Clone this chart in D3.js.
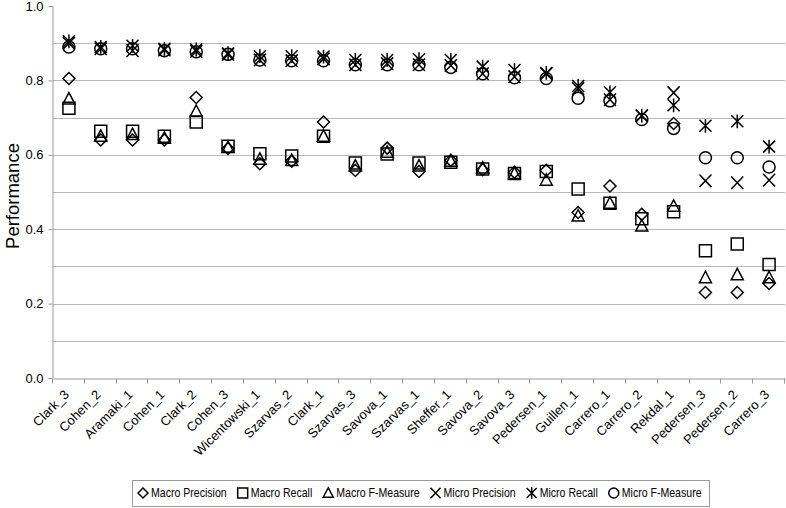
<!DOCTYPE html>
<html>
<head>
<meta charset="utf-8">
<script src="https://cdn.jsdelivr.net/npm/d3@7"></script>
<style>
  html, body { margin: 0; padding: 0; background: #fff; }
  svg { display: block; font-family: 'Liberation Sans', Arial, sans-serif; }
</style>
</head>
<body>
<div id="chart"></div>
<script>
const systems = ['Clark_3', 'Cohen_2', 'Aramaki_1', 'Cohen_1', 'Clark_2', 'Cohen_3', 'Wicentowski_1',
  'Szarvas_2', 'Clark_1', 'Szarvas_3', 'Savova_1', 'Szarvas_1', 'Sheffer_1', 'Savova_2', 'Savova_3',
  'Pedersen_1', 'Guillen_1', 'Carrero_1', 'Carrero_2', 'Rekdal_1', 'Pedersen_3', 'Pedersen_2', 'Carrero_3']

const macroPrecision = [0.805, 0.64, 0.64, 0.64, 0.754, 0.617, 0.576, 0.583, 0.688, 0.558, 0.618, 0.555,
  0.585, 0.56, 0.553, 0.558, 0.445, 0.516, 0.44, 0.684, 0.23, 0.23, 0.254]
const macroRecall = [0.725, 0.663, 0.663, 0.65, 0.688, 0.623, 0.603, 0.597, 0.65, 0.578, 0.602, 0.578,
  0.58, 0.562, 0.55, 0.555, 0.508, 0.47, 0.428, 0.447, 0.342, 0.36, 0.305]
const macroFMeasure = [0.75, 0.65, 0.655, 0.645, 0.717, 0.62, 0.588, 0.585, 0.65, 0.57, 0.607, 0.57,
  0.583, 0.565, 0.55, 0.532, 0.436, 0.47, 0.409, 0.462, 0.27, 0.278, 0.27]
const microPrecision = [0.9, 0.885, 0.88, 0.882, 0.878, 0.87, 0.855, 0.853, 0.858, 0.842, 0.845, 0.842,
  0.84, 0.818, 0.81, 0.818, 0.778, 0.748, 0.705, 0.767, 0.53, 0.525, 0.532]
const microRecall = [0.905, 0.89, 0.893, 0.885, 0.883, 0.873, 0.865, 0.865, 0.864, 0.855, 0.855, 0.857,
  0.855, 0.837, 0.828, 0.82, 0.785, 0.768, 0.705, 0.733, 0.678, 0.69, 0.622]
const microFMeasure = [0.89, 0.885, 0.885, 0.88, 0.877, 0.87, 0.855, 0.853, 0.853, 0.842, 0.842, 0.842,
  0.835, 0.818, 0.807, 0.805, 0.752, 0.745, 0.695, 0.671, 0.592, 0.592, 0.567]

const yTicks = [0, 0.2, 0.4, 0.6, 0.8, 1.0]
const yGrid = [0.1, 0.2, 0.3, 0.4, 0.5, 0.6, 0.7, 0.8, 0.9]

// marker shapes, centred on 0,0
const shapes = {
  diamond: s => `M0,${-s}L${s},0L0,${s}L${-s},0Z`,
  square: s => `M${-s},${-s}H${s}V${s}H${-s}Z`,
  triangle: s => `M0,${-s * 1.05}L${s},${s * 0.85}H${-s}Z`,
  cross: s => `M${-s},${-s * 1.05}L${s},${s * 1.05}M${s},${-s * 1.05}L${-s},${s * 1.05}`,
  asterisk: s => `M${-s},${-s}L${s},${s}M${s},${-s}L${-s},${s}M0,${-s * 1.15}V${s * 1.15}`,
  circle: s => `M${s},0A${s},${s} 0 1,1 ${-s},0A${s},${s} 0 1,1 ${s},0Z`
}

const series = [
  { name: 'Macro Precision', values: macroPrecision, shape: 'diamond' },
  { name: 'Macro Recall', values: macroRecall, shape: 'square' },
  { name: 'Macro F-Measure', values: macroFMeasure, shape: 'triangle' },
  { name: 'Micro Precision', values: microPrecision, shape: 'cross' },
  { name: 'Micro Recall', values: microRecall, shape: 'asterisk' },
  { name: 'Micro F-Measure', values: microFMeasure, shape: 'circle' }
]

const width = 786
const height = 508
const margin = { top: 6, right: 1, bottom: 130, left: 53 }
const font = "'Liberation Sans', Arial, sans-serif"

const svg = d3.select('#chart')
  .append('svg')
  .attr('width', width)
  .attr('height', height)
  .attr('viewBox', [0, 0, width, height].join(' '))

const x = d3.scaleBand()
  .domain(systems)
  .range([margin.left, width - margin.right])

const y = d3.scaleLinear()
  .domain([0, 1])
  .range([height - margin.bottom, margin.top])

const crisp = v => Math.round(v) + 0.5

// grid lines
svg.append('g')
  .attr('class', 'grid')
  .selectAll('line')
  .data(yGrid)
  .join('line')
  .attr('x1', margin.left)
  .attr('x2', width - margin.right)
  .attr('y1', d => crisp(y(d)))
  .attr('y2', d => crisp(y(d)))
  .attr('stroke', '#b8b8b8')
  .attr('stroke-width', 1)

// y axis
const yAxis = svg.append('g')
  .attr('class', 'y')
  .attr('transform', `translate(${crisp(margin.left) - 1},0)`)
  .call(d3.axisLeft(y).tickValues(yTicks).tickFormat(d3.format('.1f')).tickSize(4).tickPadding(5))
yAxis.select('.domain').attr('stroke', '#999')
yAxis.selectAll('.tick line').attr('stroke', '#999')
yAxis.selectAll('text').attr('font-size', 13).attr('fill', '#000').attr('font-family', font)

// x axis
const xAxis = svg.append('g')
  .attr('class', 'x')
  .attr('transform', `translate(0,${crisp(y(0))})`)
  .call(d3.axisBottom(x).tickSize(0).tickSizeOuter(0))
xAxis.select('.domain').attr('stroke', '#999')
xAxis.selectAll('.tick text')
  .attr('font-size', 13)
  .attr('fill', '#000')
  .attr('font-family', font)
  .attr('text-anchor', 'end')
  .attr('dy', null)
  .attr('y', 0)
  .attr('transform', 'translate(1,17) rotate(-45)')

// tick marks at the band edges
xAxis.append('g')
  .selectAll('line')
  .data(systems.map(d => x(d)).concat([x.range()[1]]))
  .join('line')
  .attr('x1', d => crisp(d) - 1)
  .attr('x2', d => crisp(d) - 1)
  .attr('y1', 0)
  .attr('y2', 5)
  .attr('stroke', '#999')

// y label
svg.append('text')
  .attr('transform', `translate(19,${y(0.5) + 4}) rotate(-90)`)
  .attr('text-anchor', 'middle')
  .attr('font-size', 18.5)
  .text('Performance')

// markers
const points = svg.append('g').attr('class', 'points')
series.forEach(s => {
  points.append('g')
    .attr('class', 'series')
    .selectAll('path')
    .data(s.values.map((v, i) => ({ v, name: systems[i] })))
    .join('path')
    .attr('transform', d => `translate(${x(d.name) + x.bandwidth() / 2},${y(d.v)})`)
    .attr('d', shapes[s.shape](6))
    .attr('fill', 'none')
    .attr('stroke', '#000')
    .attr('stroke-width', 1.5)
})

// legend: items laid out one after the other from measured text widths
const legend = svg.append('g').attr('class', 'legend')
legend.append('rect')
  .attr('x', 132.5)
  .attr('y', 480.5)
  .attr('width', 577)
  .attr('height', 26)
  .attr('fill', '#fff')
  .attr('stroke', '#999')

const squeeze = 0.88
const item = legend.selectAll('g.item')
  .data(series)
  .join('g')
  .attr('class', 'item')
item.append('path')
  .attr('d', d => shapes[d.shape](5))
  .attr('fill', 'none')
  .attr('stroke', '#000')
  .attr('stroke-width', 1.5)
item.append('text')
  .attr('dy', '0.35em')
  .attr('font-size', 12)
  .attr('font-family', font)
  .attr('transform', `scale(${squeeze},1)`)
  .attr('x', 8 / squeeze)
  .text(d => d.name)

let cursor = 143
item.each(function () {
  const g = d3.select(this)
  g.attr('transform', `translate(${cursor},493)`)
  cursor += 8 + g.select('text').node().getComputedTextLength() * squeeze + 16
})
</script>
</body>
</html>
